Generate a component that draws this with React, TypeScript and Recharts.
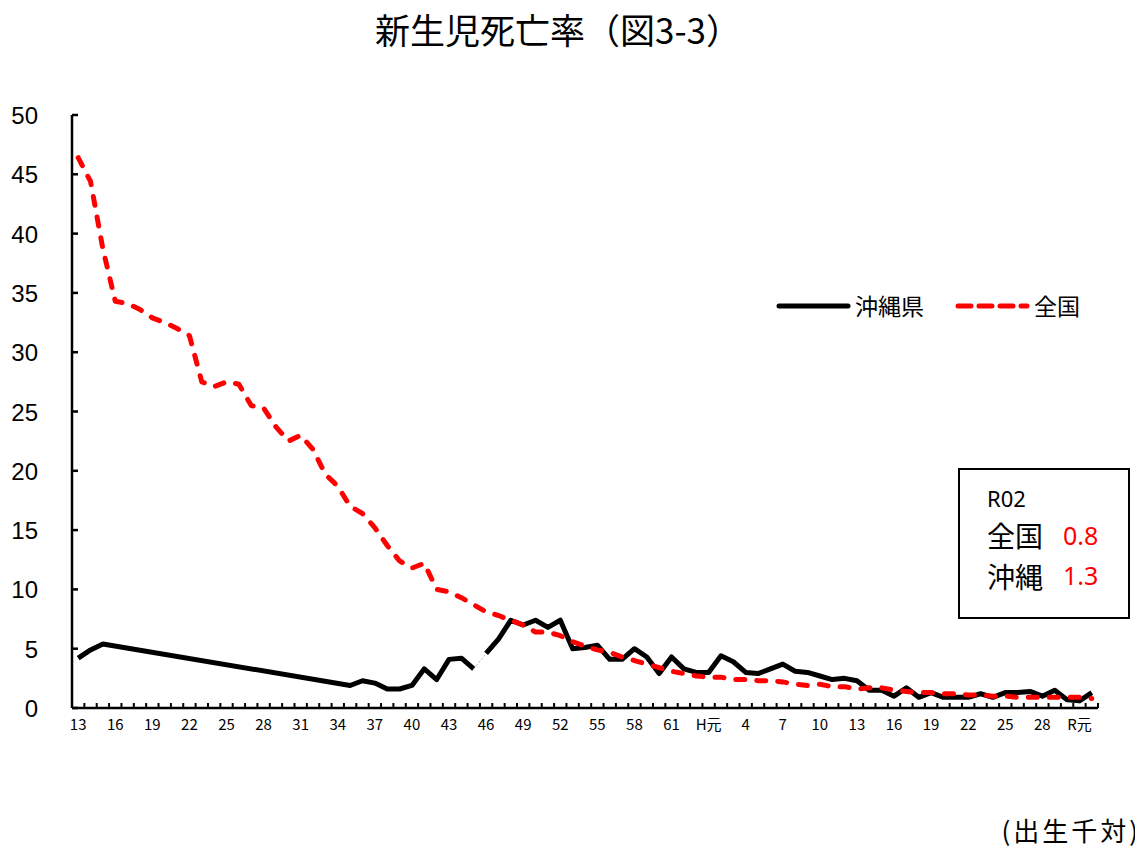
import React from "react";
import { LineChart, Line, XAxis, YAxis, Legend } from "recharts";

const categories = [
  "S13","S14","S15","S16","S17","S18","S19","S20","S21","S22","S23","S24","S25","S26","S27","S28","S29","S30","S31","S32","S33","S34","S35","S36","S37","S38","S39","S40","S41","S42","S43","S44","S45","S46","S47","S48","S49","S50","S51","S52","S53","S54","S55","S56","S57","S58","S59","S60","S61","S62","S63",
  "H1","H2","H3","H4","H5","H6","H7","H8","H9","H10","H11","H12","H13","H14","H15","H16","H17","H18","H19","H20","H21","H22","H23","H24","H25","H26","H27","H28","H29","H30",
  "R1","R2",
];

const xTickLabels = [
  "13","16","19","22","25","28","31","34","37","40","43","46","49","52","55","58","61",
  "H元","4","7","10","13","16","19","22","25","28","R元",
];

const yTicks = [0, 5, 10, 15, 20, 25, 30, 35, 40, 45, 50];

// 全国
const national = [
  46.4, 44.4, 38.7, 34.3, 34.1, 33.6, 32.9, 32.5, 32.0, 31.4, 27.5, 27.1, 27.5, 27.3, 25.5, 25.3, 23.7, 22.5, 23.0, 21.8,
  19.7, 18.7, 17.0, 16.4, 15.2, 13.7, 12.4, 11.8, 12.2, 10.0, 9.8, 9.3, 8.7, 8.1, 7.8, 7.4, 7.0, 6.4, 6.4, 6.1,
  5.6, 5.2, 4.9, 4.7, 4.3, 4.0, 3.7, 3.4, 3.1, 2.9, 2.7,
  2.6, 2.6, 2.4, 2.4, 2.3, 2.3, 2.2, 2.0, 1.9, 2.0, 1.8, 1.8, 1.6, 1.7, 1.7, 1.5, 1.4, 1.3, 1.3, 1.2,
  1.2, 1.1, 1.1, 1.0, 1.0, 0.9, 0.9, 0.9, 0.9, 0.9,
  0.9, 0.8,
];

// 沖縄県 (null = no data)
const okinawa = [
  4.2, 4.9, 5.4, null, null, null, null, null, null, null, null, null, null, null, null, null, null, null, null, null,
  null, null, 1.9, 2.3, 2.1, 1.6, 1.6, 1.9, 3.3, 2.4, 4.1, 4.2, 3.3, 4.6, 5.8, 7.4, 7.0, 7.4, 6.8, 7.4,
  5.0, 5.1, 5.3, 4.1, 4.1, 5.0, 4.3, 2.9, 4.3, 3.3, 3.0,
  3.0, 4.4, 3.9, 3.0, 2.9, 3.3, 3.7, 3.1, 3.0, 2.7, 2.4, 2.5, 2.3, 1.5, 1.5, 1.0, 1.7, 0.9, 1.3, 0.9,
  0.9, 0.9, 1.2, 0.9, 1.3, 1.3, 1.4, 1.0, 1.5, 0.7,
  0.6, 1.3,
];

// series break in the Okinawa data (between S45 and S46)
const okinawaBreakAfter = "S45";

const latestLabel = "R02";
const latestNational = 0.8;
const latestOkinawa = 1.3;

const legendOrder = ["okA", "national"];

const breakIdx = categories.indexOf(okinawaBreakAfter);
const data = categories.map((key, i) => ({
  key,
  national: national[i],
  okA: i <= breakIdx ? okinawa[i] : null,
  okB: i > breakIdx ? okinawa[i] : null,
  link: i === breakIdx || i === breakIdx + 1 ? okinawa[i] : null,
}));

const W = 1135;
const H = 841;
const M = { top: 107, right: 45, bottom: 111, left: 0 };
const Y_W = 64;
const BAND = (W - M.right - M.left - Y_W) / categories.length;

const CJK = '"Noto Sans CJK JP", "Noto Sans", sans-serif';
const ARIAL = '"Liberation Sans", Arial, sans-serif';

const XTick = (props: any) => {
  const { x, y, index } = props;
  return (
    <g>
      <line x1={x + BAND / 2} y1={y} x2={x + BAND / 2} y2={y - 5} stroke="#000" strokeWidth={2} />
      {index % 3 === 0 && (
        <text x={x} y={y + 22} textAnchor="middle" fontSize={15} fontFamily={CJK} fill="#000">
          {xTickLabels[index / 3]}
        </text>
      )}
    </g>
  );
};

const YTick = (props: any) => {
  const { x, y, payload } = props;
  return (
    <g>
      <line x1={x} y1={y} x2={x + 6} y2={y} stroke="#000" strokeWidth={2.5} />
      <text x={x - 34} y={y + 9} textAnchor="end" fontSize={24} fontFamily={ARIAL} fill="#000">
        {payload.value}
      </text>
    </g>
  );
};

const LegendContent = (props: any) => {
  const all = (props.payload || []) as any[];
  const items = legendOrder
    .map((k) => all.find((p: any) => p.dataKey === k))
    .filter(Boolean);
  return (
    <svg width={360} height={40}>
      {items.map((p: any, i: number) => {
        const ox = i * 179;
        const dashed = p.dataKey === "national";
        return (
          <g key={i}>
            <line
              x1={ox + 11}
              y1={18}
              x2={ox + 80}
              y2={18}
              stroke={p.color}
              strokeWidth={5}
              strokeLinecap="round"
              strokeDasharray={dashed ? "13 8" : undefined}
            />
            <text x={ox + 87} y={27} fontSize={23} fontFamily={CJK} fill="#000">
              {p.value}
            </text>
          </g>
        );
      })}
    </svg>
  );
};

export default function App() {
  return (
    <div style={{ position: "relative", width: W, height: H, background: "#fff" }}>
      <LineChart width={W} height={H} data={data} margin={M}>
        <XAxis
          dataKey="key"
          interval={0}
          tickSize={0}
          tickMargin={0}
          tickLine={false}
          height={30}
          padding={{ left: BAND / 2, right: BAND / 2 }}
          axisLine={{ stroke: "#000", strokeWidth: 2.5 }}
          tick={<XTick />}
        />
        <YAxis
          domain={[0, 50]}
          ticks={yTicks}
          width={Y_W}
          tickSize={0}
          tickMargin={0}
          tickLine={false}
          axisLine={{ stroke: "#000", strokeWidth: 2.5 }}
          tick={<YTick />}
        />
        <Line
          dataKey="okA"
          name="沖縄県"
          stroke="#000"
          strokeWidth={5}
          dot={false}
          connectNulls
          isAnimationActive={false}
          strokeLinejoin="round"
        />
        <Line
          dataKey="okB"
          name="沖縄県B"
          stroke="#000"
          strokeWidth={5}
          dot={false}
          legendType="none"
          isAnimationActive={false}
          strokeLinejoin="round"
        />
        <Line
          dataKey="link"
          name="link"
          stroke="#aaa"
          strokeWidth={1}
          strokeDasharray="2 2"
          dot={false}
          legendType="none"
          isAnimationActive={false}
        />
        <Line
          dataKey="national"
          name="全国"
          stroke="#ff0000"
          strokeWidth={5}
          strokeDasharray="9 12"
          strokeLinecap="round"
          strokeLinejoin="round"
          dot={false}
          isAnimationActive={false}
        />
        <Legend
          layout="vertical"
          align="center"
          verticalAlign="middle"
          content={<LegendContent />}
          wrapperStyle={{ left: 760, top: 280, width: 360, height: 40 }}
        />
      </LineChart>
      <svg
        width={1143}
        height={849}
        style={{ position: "absolute", left: -8, top: -8, pointerEvents: "none" }}
      >
        <text x={558} y={44} textAnchor="middle" fontSize={35} fontFamily={CJK} fill="#000">
          新生児死亡率（図3-3）
        </text>
        <rect x={959} y={469} width={170} height={149} fill="#fff" stroke="#000" strokeWidth={2} />
        <text x={987} y={507} fontSize={22} fontFamily='"Noto Sans", sans-serif' fill="#000">
          {latestLabel}
        </text>
        <text x={987} y={547} fontSize={28} fontFamily={CJK} fill="#000">全国</text>
        <text x={1063} y={545} fontSize={25} fontFamily='"Noto Sans", sans-serif' fill="#ff0000">
          {latestNational.toFixed(1)}
        </text>
        <text x={987} y={588} fontSize={28} fontFamily={CJK} fill="#000">沖縄</text>
        <text x={1063} y={585} fontSize={25} fontFamily='"Noto Sans", sans-serif' fill="#ff0000">
          {latestOkinawa.toFixed(1)}
        </text>
        <text
          x={1141}
          y={841}
          textAnchor="end"
          fontSize={26}
          letterSpacing={3}
          fontFamily={CJK}
          fill="#000"
        >
          (出生千対)
        </text>
      </svg>
    </div>
  );
}
